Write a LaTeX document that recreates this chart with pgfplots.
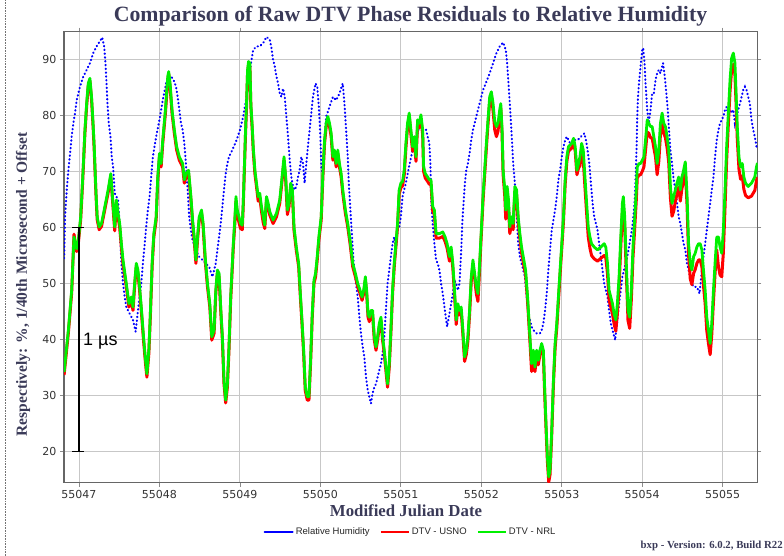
\documentclass[border=0pt]{standalone}
\usepackage{pgfplots}
\pgfplotsset{compat=1.18}
\usepackage{pgfplotstable}
\usepackage{fontspec}
\setmainfont{Liberation Serif}
\newfontfamily\dejavu{DejaVu Sans}
\newfontfamily\lsans{Liberation Sans}
\definecolor{titlecol}{RGB}{58,58,88}
\definecolor{dtvgreen}{RGB}{0,240,0}
\definecolor{hblue}{RGB}{0,0,255}

\pgfplotstableread{
x y
55046.815 54.5
55046.827 61.9
55046.848 66.7
55046.868 70.2
55046.889 73.2
55046.909 76.2
55046.930 78.6
55046.951 80.4
55046.971 82.7
55047.012 85.1
55047.053 86.9
55047.095 88.1
55047.136 89.3
55047.177 91.1
55047.218 92.3
55047.259 93.2
55047.288 93.9
55047.313 92.3
55047.329 89.3
55047.342 85.7
55047.354 82.1
55047.370 78.6
55047.391 76.2
55047.407 72.6
55047.424 70.8
55047.444 66.1
55047.465 65.5
55047.486 64.9
55047.506 60.1
55047.527 53.6
55047.547 50.0
55047.568 47.6
55047.588 45.8
55047.609 45.2
55047.630 44.6
55047.671 43.5
55047.704 41.4
55047.733 45.2
55047.753 47.6
55047.774 50.0
55047.794 53.6
55047.815 56.8
55047.835 60.1
55047.856 63.1
55047.877 65.5
55047.897 69.0
55047.918 72.6
55047.959 76.2
55048.000 79.2
55048.041 82.7
55048.082 85.7
55048.115 86.9
55048.144 87.0
55048.185 86.0
55048.206 85.1
55048.226 83.3
55048.247 81.0
55048.267 78.6
55048.288 77.4
55048.309 75.0
55048.329 71.4
55048.350 66.7
55048.370 61.9
55048.391 59.5
55048.412 57.7
55048.453 56.0
55048.494 54.8
55048.535 54.2
55048.576 53.6
55048.617 53.0
55048.658 51.2
55048.700 53.6
55048.720 56.0
55048.741 58.3
55048.761 60.7
55048.782 63.7
55048.802 66.7
55048.823 69.6
55048.844 71.4
55048.864 72.6
55048.905 73.8
55048.959 75.6
55049.000 77.4
55049.041 79.8
55049.082 83.3
55049.124 88.1
55049.165 91.7
55049.206 92.3
55049.247 92.3
55049.289 92.9
55049.330 94.0
55049.371 93.5
55049.392 92.0
55049.412 89.9
55049.433 88.7
55049.454 86.9
55049.474 85.7
55049.495 83.9
55049.515 83.3
55049.536 84.8
55049.557 83.3
55049.577 79.8
55049.598 76.2
55049.619 72.0
55049.639 69.0
55049.660 67.3
55049.680 66.7
55049.701 67.3
55049.722 69.0
55049.742 70.2
55049.763 72.6
55049.784 71.4
55049.804 67.9
55049.825 71.4
55049.845 74.4
55049.866 77.4
55049.887 80.4
55049.907 83.3
55049.940 85.7
55049.961 85.1
55049.981 81.5
55049.998 76.8
55050.014 70.2
55050.031 69.6
55050.052 75.6
55050.072 79.8
55050.113 81.5
55050.155 83.3
55050.196 82.7
55050.237 83.9
55050.278 85.7
55050.299 82.1
55050.320 77.4
55050.340 72.6
55050.353 67.9
55050.373 63.1
55050.394 58.3
55050.414 53.6
55050.443 50.0
55050.464 47.6
55050.485 44.0
55050.505 41.0
55050.526 38.7
55050.546 36.9
55050.567 33.3
55050.588 31.0
55050.608 29.8
55050.629 28.6
55050.649 30.4
55050.670 31.5
55050.691 32.1
55050.711 33.3
55050.732 34.5
55050.753 35.7
55050.773 37.5
55050.794 40.5
55050.814 45.2
55050.835 50.0
55050.856 52.4
55050.876 54.8
55050.897 57.1
55050.918 58.3
55050.938 56.0
55050.959 59.5
55050.979 60.1
55051.000 61.9
55051.021 65.5
55051.041 66.7
55051.062 67.9
55051.104 71.0
55051.146 73.8
55051.188 75.6
55051.229 78.0
55051.271 77.4
55051.313 77.4
55051.333 76.2
55051.354 75.0
55051.367 71.4
55051.379 64.3
55051.396 60.7
55051.417 57.1
55051.438 54.2
55051.458 53.6
55051.479 52.4
55051.500 50.0
55051.521 48.2
55051.542 45.8
55051.563 43.5
55051.575 42.3
55051.596 44.0
55051.625 46.4
55051.646 48.2
55051.667 50.6
55051.688 50.0
55051.708 48.8
55051.729 50.0
55051.742 53.6
55051.754 57.1
55051.763 60.7
55051.779 64.3
55051.796 67.9
55051.813 70.2
55051.833 71.4
55051.854 73.2
55051.875 75.6
55051.896 77.4
55051.917 78.6
55051.938 79.8
55051.958 81.0
55051.979 82.1
55052.000 83.3
55052.021 84.5
55052.063 86.0
55052.104 87.5
55052.146 89.3
55052.188 91.1
55052.229 92.3
55052.271 93.0
55052.304 91.7
55052.321 89.3
55052.338 85.7
55052.354 82.1
55052.371 78.0
55052.383 75.0
55052.396 71.4
55052.417 67.9
55052.438 63.1
55052.458 57.1
55052.479 54.8
55052.500 53.6
55052.521 52.4
55052.542 51.2
55052.563 47.6
55052.583 44.6
55052.604 43.5
55052.625 42.3
55052.646 41.7
55052.688 41.1
55052.729 41.1
55052.750 41.7
55052.771 42.9
55052.792 45.2
55052.813 48.2
55052.833 52.4
55052.854 56.0
55052.875 59.5
55052.896 61.3
55052.917 63.1
55052.938 65.5
55052.958 68.5
55052.979 70.2
55053.000 72.6
55053.021 74.4
55053.042 75.6
55053.063 76.2
55053.104 75.0
55053.146 75.6
55053.198 75.6
55053.239 76.2
55053.280 76.8
55053.300 75.6
55053.321 73.8
55053.342 71.4
55053.362 67.9
55053.383 64.3
55053.403 61.9
55053.424 60.7
55053.444 59.5
55053.465 57.1
55053.486 54.8
55053.506 52.4
55053.527 50.0
55053.547 48.8
55053.568 47.6
55053.588 45.2
55053.609 42.9
55053.630 41.7
55053.663 39.9
55053.691 43.5
55053.712 46.4
55053.733 48.8
55053.753 51.2
55053.774 52.4
55053.794 53.6
55053.815 54.8
55053.835 56.5
55053.856 58.3
55053.877 60.1
55053.897 63.1
55053.909 65.5
55053.922 70.8
55053.930 74.4
55053.938 79.8
55053.947 83.3
55053.959 85.7
55053.979 88.7
55054.000 91.7
55054.012 92.0
55054.029 89.3
55054.041 85.7
55054.062 81.0
55054.082 78.6
55054.103 81.0
55054.123 83.9
55054.144 83.9
55054.165 86.3
55054.185 87.5
55054.206 88.1
55054.226 87.5
55054.259 89.3
55054.280 86.9
55054.300 83.9
55054.317 81.0
55054.333 77.4
55054.350 73.8
55054.370 71.4
55054.391 68.5
55054.412 66.7
55054.432 64.3
55054.453 61.9
55054.473 60.7
55054.494 58.9
55054.514 57.1
55054.535 56.0
55054.556 53.6
55054.576 52.4
55054.597 51.2
55054.617 50.0
55054.638 49.4
55054.679 49.4
55054.712 48.2
55054.741 52.4
55054.761 54.8
55054.782 57.1
55054.802 59.5
55054.823 61.9
55054.844 64.3
55054.864 66.7
55054.885 69.0
55054.905 72.6
55054.926 75.6
55054.947 77.4
55054.967 78.6
55054.988 79.2
55055.008 79.8
55055.029 81.0
55055.049 81.5
55055.070 79.8
55055.091 81.0
55055.111 80.4
55055.132 81.0
55055.152 78.6
55055.173 79.8
55055.193 81.0
55055.214 82.1
55055.235 83.3
55055.255 84.5
55055.276 85.1
55055.296 84.5
55055.317 83.3
55055.337 82.1
55055.358 79.2
55055.379 77.4
55055.399 76.2
55055.420 74.4
}\humidity

\pgfplotstableread{
x y
55046.815 34.2
55046.868 41.7
55046.909 48.8
55046.938 58.3
55046.971 56.2
55046.992 57.7
55047.021 61.9
55047.045 68.5
55047.074 77.4
55047.095 82.1
55047.115 85.7
55047.136 86.6
55047.156 83.3
55047.177 78.0
55047.189 74.4
55047.210 66.7
55047.226 61.9
55047.251 60.1
55047.280 60.7
55047.321 63.7
55047.362 66.7
55047.395 69.6
55047.416 65.5
55047.444 60.1
55047.465 64.9
55047.486 62.5
55047.506 60.7
55047.527 57.1
55047.547 54.2
55047.588 50.0
55047.621 46.4
55047.650 47.6
55047.671 45.8
55047.691 50.0
55047.712 53.6
55047.733 52.4
55047.753 49.4
55047.774 45.8
55047.802 40.5
55047.827 36.3
55047.844 33.9
55047.868 38.1
55047.885 44.0
55047.909 53.6
55047.930 58.9
55047.959 61.9
55047.979 69.0
55048.000 73.2
55048.021 71.4
55048.041 75.6
55048.074 81.0
55048.103 86.9
55048.115 87.8
55048.132 85.7
55048.156 81.0
55048.185 77.4
55048.214 74.4
55048.247 72.6
55048.288 71.4
55048.309 68.5
55048.329 69.6
55048.362 70.2
55048.391 65.5
55048.412 61.3
55048.432 58.3
55048.453 54.2
55048.473 58.3
55048.494 61.9
55048.523 63.1
55048.543 60.7
55048.568 54.8
55048.597 50.0
55048.626 46.4
55048.650 40.5
55048.679 41.7
55048.700 48.8
55048.720 52.4
55048.741 51.8
55048.761 45.8
55048.782 40.5
55048.802 32.7
55048.823 29.2
55048.844 32.1
55048.864 38.7
55048.885 47.6
55048.918 57.1
55048.938 61.9
55048.951 65.5
55048.967 63.1
55048.988 61.9
55049.008 60.7
55049.029 60.4
55049.041 64.3
55049.054 70.2
55049.070 77.4
55049.082 82.1
55049.095 88.1
55049.107 89.6
55049.124 89.3
55049.136 82.1
55049.153 78.0
55049.165 74.4
55049.186 70.2
55049.206 67.9
55049.227 65.5
55049.247 66.1
55049.268 63.7
55049.289 61.9
55049.309 60.4
55049.330 65.5
55049.351 64.3
55049.371 62.8
55049.412 61.3
55049.454 62.5
55049.495 64.9
55049.524 69.0
55049.548 72.6
55049.569 69.0
55049.590 63.1
55049.610 64.3
55049.631 67.9
55049.652 66.7
55049.672 60.1
55049.701 56.5
55049.730 53.6
55049.751 48.2
55049.771 43.5
55049.792 38.1
55049.812 31.5
55049.837 29.8
55049.858 29.8
55049.878 36.3
55049.899 44.6
55049.920 50.6
55049.940 51.8
55049.961 54.8
55049.981 58.3
55050.010 61.9
55050.031 69.6
55050.052 75.6
55050.072 78.6
55050.093 79.8
55050.113 78.6
55050.134 76.8
55050.155 72.6
55050.175 73.8
55050.196 71.4
55050.216 73.8
55050.237 71.4
55050.258 69.6
55050.278 66.7
55050.311 63.1
55050.340 60.7
55050.369 57.7
55050.402 53.6
55050.435 51.8
55050.464 50.0
55050.493 48.8
55050.518 47.6
55050.538 48.8
55050.559 51.2
55050.575 48.8
55050.592 44.6
55050.608 44.0
55050.629 45.2
55050.649 45.2
55050.670 40.5
55050.691 38.7
55050.711 40.5
55050.732 42.9
55050.753 44.0
55050.773 40.5
55050.794 38.1
55050.814 35.1
55050.835 32.1
55050.856 35.7
55050.876 41.7
55050.897 48.8
55050.918 53.6
55050.938 57.1
55050.959 60.7
55050.979 66.7
55051.000 67.9
55051.021 68.2
55051.042 70.2
55051.063 75.0
55051.083 78.6
55051.104 80.4
55051.125 77.4
55051.146 74.4
55051.167 76.2
55051.188 72.6
55051.208 79.2
55051.229 78.6
55051.250 80.1
55051.271 77.4
55051.283 70.8
55051.304 69.6
55051.333 69.0
55051.354 68.5
55051.375 68.5
55051.396 63.7
55051.417 63.1
55051.438 58.9
55051.479 58.9
55051.521 59.2
55051.550 58.3
55051.575 57.1
55051.604 54.8
55051.625 56.5
55051.646 53.6
55051.667 48.8
55051.688 43.5
55051.708 46.4
55051.729 45.2
55051.750 45.8
55051.771 41.7
55051.792 36.9
55051.813 38.1
55051.833 40.5
55051.854 45.2
55051.875 51.2
55051.896 54.2
55051.917 51.8
55051.938 49.4
55051.958 48.2
55051.979 53.6
55052.000 59.5
55052.021 65.5
55052.042 70.2
55052.063 75.0
55052.083 79.2
55052.104 83.3
55052.125 84.2
55052.146 82.1
55052.167 78.9
55052.188 78.0
55052.208 78.6
55052.229 81.0
55052.242 82.1
55052.258 77.4
55052.271 70.2
55052.292 66.7
55052.304 63.1
55052.321 67.3
55052.338 64.9
55052.354 60.1
55052.375 61.9
55052.396 60.7
55052.417 67.3
55052.438 66.7
55052.458 61.9
55052.479 58.9
55052.500 56.5
55052.521 54.8
55052.550 52.4
55052.575 47.6
55052.604 40.5
55052.625 35.7
55052.646 38.1
55052.667 35.1
55052.688 38.1
55052.708 36.3
55052.729 38.1
55052.750 39.3
55052.771 38.1
55052.788 31.0
55052.804 25.0
55052.821 19.1
55052.838 15.5
55052.854 16.7
55052.875 23.8
55052.896 32.7
55052.917 39.3
55052.938 42.9
55052.958 47.6
55052.979 52.4
55053.000 57.1
55053.021 61.9
55053.042 68.5
55053.063 72.6
55053.083 74.4
55053.104 74.7
55053.125 75.0
55053.146 75.9
55053.167 74.4
55053.188 70.2
55053.208 71.4
55053.226 72.6
55053.247 75.0
55053.267 73.8
55053.288 69.0
55053.309 64.3
55053.329 60.1
55053.350 58.3
55053.370 57.1
55053.403 56.5
55053.444 56.0
55053.486 56.5
55053.527 57.1
55053.547 56.5
55053.568 53.6
55053.588 48.8
55053.609 47.6
55053.630 46.4
55053.650 44.6
55053.671 43.5
55053.691 46.4
55053.712 51.2
55053.733 58.3
55053.753 64.3
55053.765 65.5
55053.782 61.9
55053.802 53.6
55053.823 45.2
55053.844 44.0
55053.864 48.8
55053.885 56.5
55053.905 61.3
55053.926 66.7
55053.938 70.8
55053.959 71.4
55053.979 71.4
55054.000 72.0
55054.021 72.6
55054.041 75.6
55054.062 79.2
55054.082 78.6
55054.103 78.0
55054.123 78.0
55054.144 76.2
55054.165 74.4
55054.185 71.4
55054.206 73.8
55054.226 78.6
55054.247 80.4
55054.267 78.6
55054.288 78.0
55054.309 76.2
55054.329 73.8
55054.350 67.3
55054.370 64.3
55054.391 65.5
55054.412 66.7
55054.432 67.9
55054.453 69.0
55054.473 66.7
55054.494 69.0
55054.514 70.2
55054.535 71.7
55054.556 66.1
55054.576 57.1
55054.597 53.6
55054.617 52.4
55054.638 54.8
55054.658 55.4
55054.679 56.5
55054.700 57.1
55054.720 57.1
55054.741 56.0
55054.761 52.4
55054.782 48.8
55054.802 44.0
55054.823 41.7
55054.844 39.3
55054.864 42.9
55054.885 48.8
55054.905 53.6
55054.926 58.3
55054.947 58.3
55054.967 56.5
55054.988 55.4
55055.008 59.5
55055.029 66.7
55055.049 74.4
55055.070 80.4
55055.091 86.3
55055.111 90.2
55055.132 91.1
55055.152 89.3
55055.165 84.5
55055.181 78.0
55055.202 72.6
55055.222 70.8
55055.243 71.4
55055.263 69.0
55055.284 67.9
55055.317 67.3
55055.358 67.9
55055.399 69.0
55055.420 70.8
55055.432 71.5
}\nrl

\pgfplotstableread{
x y
55046.815 33.7
55046.868 41.2
55046.909 48.3
55046.938 58.8
55046.971 55.7
55046.992 57.2
55047.021 61.4
55047.045 68.0
55047.074 76.9
55047.095 81.6
55047.115 85.2
55047.136 86.1
55047.156 82.8
55047.177 77.5
55047.189 73.9
55047.210 66.2
55047.226 61.4
55047.251 59.6
55047.280 60.2
55047.321 63.2
55047.362 66.2
55047.395 69.1
55047.416 65.0
55047.444 59.4
55047.465 64.4
55047.486 61.8
55047.506 60.0
55047.527 56.4
55047.547 53.5
55047.588 49.4
55047.621 45.8
55047.650 47.0
55047.671 45.2
55047.691 49.4
55047.712 53.0
55047.733 51.8
55047.753 48.8
55047.774 45.2
55047.802 39.9
55047.827 35.7
55047.844 33.3
55047.868 37.5
55047.885 43.4
55047.909 53.0
55047.930 58.3
55047.959 61.3
55047.979 68.4
55048.000 72.6
55048.021 70.8
55048.041 75.0
55048.074 80.4
55048.103 86.3
55048.115 87.4
55048.132 85.1
55048.156 80.4
55048.185 76.8
55048.214 73.8
55048.247 72.0
55048.288 70.8
55048.309 67.9
55048.329 69.0
55048.362 69.6
55048.391 64.9
55048.412 60.7
55048.432 57.7
55048.453 53.6
55048.473 57.7
55048.494 61.3
55048.523 62.6
55048.543 60.1
55048.568 54.2
55048.597 49.4
55048.626 45.8
55048.650 39.9
55048.679 41.1
55048.700 48.2
55048.720 51.8
55048.741 51.2
55048.761 45.2
55048.782 39.9
55048.802 32.1
55048.823 28.7
55048.844 31.5
55048.864 38.1
55048.885 47.0
55048.918 56.5
55048.938 61.0
55048.951 64.7
55048.967 62.3
55048.988 60.9
55049.008 59.8
55049.029 59.6
55049.041 63.7
55049.054 69.6
55049.070 76.8
55049.082 81.5
55049.095 87.5
55049.107 89.0
55049.124 88.7
55049.136 81.5
55049.153 77.4
55049.165 73.8
55049.186 69.6
55049.206 67.3
55049.227 64.7
55049.247 65.3
55049.268 62.9
55049.289 60.9
55049.309 59.8
55049.330 64.9
55049.351 63.7
55049.371 62.2
55049.412 60.7
55049.454 61.9
55049.495 64.3
55049.524 68.4
55049.548 72.0
55049.569 68.4
55049.590 62.3
55049.610 63.7
55049.631 67.3
55049.652 66.1
55049.672 59.5
55049.701 55.9
55049.730 53.0
55049.751 47.6
55049.771 42.9
55049.792 37.5
55049.812 30.9
55049.837 29.2
55049.858 29.2
55049.878 35.7
55049.899 44.0
55049.920 50.0
55049.940 51.2
55049.961 54.2
55049.981 57.7
55050.010 61.3
55050.031 69.0
55050.052 75.0
55050.072 78.0
55050.093 79.2
55050.113 78.0
55050.134 76.2
55050.155 72.0
55050.175 73.2
55050.196 70.8
55050.216 73.2
55050.237 70.8
55050.258 69.0
55050.278 66.1
55050.311 62.5
55050.340 60.1
55050.369 57.1
55050.402 53.0
55050.435 51.2
55050.464 49.4
55050.493 48.2
55050.518 47.0
55050.538 48.2
55050.559 50.6
55050.575 48.2
55050.592 44.0
55050.608 43.2
55050.629 44.6
55050.649 44.4
55050.670 39.9
55050.691 38.1
55050.711 39.9
55050.732 42.3
55050.753 43.4
55050.773 39.9
55050.794 37.5
55050.814 34.5
55050.835 31.5
55050.856 35.1
55050.876 41.1
55050.897 48.2
55050.918 53.0
55050.938 56.5
55050.959 60.1
55050.979 65.9
55051.000 67.1
55051.021 67.4
55051.042 69.4
55051.063 74.2
55051.083 77.8
55051.104 80.0
55051.125 76.6
55051.146 73.6
55051.167 75.4
55051.188 71.8
55051.208 78.4
55051.229 77.8
55051.250 79.3
55051.271 76.6
55051.283 70.0
55051.304 68.8
55051.333 68.2
55051.354 67.7
55051.375 67.7
55051.396 62.9
55051.417 62.3
55051.438 58.1
55051.479 58.1
55051.521 58.4
55051.550 57.5
55051.575 56.3
55051.604 54.0
55051.625 55.7
55051.646 52.8
55051.667 48.0
55051.688 42.7
55051.708 45.6
55051.729 44.4
55051.750 45.0
55051.771 40.9
55051.792 36.1
55051.813 37.3
55051.833 39.7
55051.854 44.4
55051.875 50.4
55051.896 53.4
55051.917 51.0
55051.938 48.2
55051.958 46.8
55051.979 52.6
55052.000 58.7
55052.021 64.7
55052.042 69.4
55052.063 74.2
55052.083 78.4
55052.104 82.5
55052.125 83.4
55052.146 80.8
55052.167 77.4
55052.188 76.2
55052.208 77.2
55052.229 80.2
55052.242 81.3
55052.258 76.6
55052.271 69.4
55052.292 65.5
55052.304 61.5
55052.321 66.3
55052.338 63.6
55052.354 58.9
55052.375 60.5
55052.396 59.6
55052.417 66.5
55052.438 65.9
55052.458 61.1
55052.479 58.1
55052.500 55.5
55052.521 53.8
55052.550 51.6
55052.575 46.8
55052.604 39.7
55052.625 34.3
55052.646 36.9
55052.667 34.3
55052.688 37.1
55052.708 35.5
55052.729 37.3
55052.750 38.5
55052.771 37.3
55052.788 30.2
55052.804 24.2
55052.821 18.3
55052.838 14.6
55052.854 15.9
55052.875 23.0
55052.896 31.9
55052.917 38.5
55052.938 42.1
55052.958 46.8
55052.979 51.6
55053.000 56.3
55053.021 61.1
55053.042 67.7
55053.063 71.8
55053.083 73.6
55053.104 73.9
55053.125 74.2
55053.146 75.1
55053.167 73.6
55053.188 69.4
55053.208 70.6
55053.226 71.0
55053.247 73.4
55053.267 72.0
55053.288 67.2
55053.309 62.5
55053.329 58.3
55053.350 56.3
55053.370 55.0
55053.403 54.4
55053.444 54.0
55053.486 54.5
55053.527 55.0
55053.547 54.6
55053.568 51.8
55053.588 47.0
55053.609 45.8
55053.630 44.6
55053.650 42.8
55053.671 41.5
55053.691 44.6
55053.712 49.4
55053.733 56.5
55053.753 62.5
55053.765 63.9
55053.782 60.1
55053.802 51.8
55053.823 43.4
55053.844 42.0
55053.864 47.0
55053.885 54.7
55053.905 59.5
55053.926 64.9
55053.938 68.8
55053.959 69.4
55053.979 69.4
55054.000 70.0
55054.021 70.8
55054.041 73.8
55054.062 77.0
55054.082 76.8
55054.103 76.0
55054.123 76.0
55054.144 74.2
55054.165 72.6
55054.185 69.4
55054.206 71.8
55054.226 76.6
55054.247 78.4
55054.267 76.8
55054.288 76.0
55054.309 74.2
55054.329 71.6
55054.350 65.3
55054.370 62.0
55054.391 62.9
55054.412 64.7
55054.432 65.9
55054.453 67.2
55054.473 64.7
55054.494 67.0
55054.514 68.2
55054.535 69.9
55054.556 64.3
55054.576 55.0
55054.597 50.8
55054.617 49.8
55054.638 51.8
55054.658 52.5
55054.679 53.6
55054.700 54.2
55054.720 54.2
55054.741 53.0
55054.761 49.6
55054.782 46.4
55054.802 41.6
55054.823 39.3
55054.844 37.3
55054.864 40.9
55054.885 46.8
55054.905 51.8
55054.926 56.0
55054.947 53.0
55054.967 51.5
55054.988 51.2
55055.008 55.5
55055.029 63.7
55055.049 72.0
55055.070 78.4
55055.091 84.3
55055.111 88.2
55055.132 89.1
55055.152 87.3
55055.165 82.5
55055.181 75.8
55055.202 70.4
55055.222 68.6
55055.243 69.2
55055.263 66.8
55055.284 65.7
55055.317 65.3
55055.358 65.6
55055.399 66.6
55055.420 68.4
55055.432 69.0
}\usno

\begin{document}
\begin{tikzpicture}
\path[use as bounding box] (0pt,0pt) rectangle (784pt,556pt);
\draw[black!55, densely dotted, line width=0.6pt] (5pt,0pt) -- (5pt,556pt);
\begin{axis}[
  at={(64pt,73.3pt)}, anchor=south west,
  scale only axis, width=693.5pt, height=451pt,
  xmin=55046.8136, xmax=55055.4325,
  ymin=14.47, ymax=94.92,
  scaled x ticks=false,
  xtick={55047,55048,55049,55050,55051,55052,55053,55054,55055},
  xticklabels={55047,55048,55049,55050,55051,55052,55053,55054,55055},
  ytick={20,30,40,50,60,70,80,90},
  /pgf/number format/assume math mode=true,
  ticklabel style={font=\dejavu\fontsize{11}{13}\selectfont, text=black!80},
  tick align=outside, major tick length=4pt,
  tick style={black!45, line width=0.8pt},
  grid=major, grid style={black!22, line width=0.9pt},
  axis line style={black!60, line width=1.3pt},
  axis background/.style={fill=white},
  clip=true,
  legend style={at={(0.4996,-0.1093)}, anchor=center, draw=none, fill=none,
    font=\lsans\fontsize{9.5}{11}\selectfont, text=black!85},
  legend columns=3,
  legend cell align=left,
  /tikz/every even column/.append style={column sep=8pt},
  legend image code/.code={\draw[#1, solid, line width=2.2pt] (0pt,0pt) -- (28pt,0pt);},
]
\addplot[hblue, line width=2.1pt, line cap=round, dash pattern=on 0.5pt off 3.3pt] table[x=x,y=y] {\humidity};
\addlegendentry{Relative Humidity}
\addplot[red, line width=3pt, line join=round] table[x=x,y=y] {\usno};
\addlegendentry{DTV - USNO}
\addplot[dtvgreen, line width=2.8pt, line join=round] table[x=x,y=y] {\nrl};
\addlegendentry{DTV - NRL}
% 1 microsecond scale bar
\addplot[black, line width=1.4pt, forget plot] coordinates {(55047,60) (55047,20)};
\addplot[black, line width=1.4pt, forget plot] coordinates {(55046.915,60) (55047.065,60)};
\addplot[black, line width=1.4pt, forget plot] coordinates {(55046.915,20) (55047.065,20)};
\node[anchor=west, inner sep=0pt, font=\lsans\fontsize{18}{20}\selectfont] at (axis cs:55047.05,39.7) {1 µs};
\end{axis}
\node[anchor=base, inner sep=0pt, text=titlecol, font=\bfseries\fontsize{21.8}{26}\selectfont] at (410.5pt,534.5pt) {Comparison of Raw DTV Phase Residuals to Relative Humidity};
\node[anchor=center, inner sep=0pt, text=titlecol, font=\bfseries\fontsize{16.8}{20}\selectfont] at (406pt,45pt) {Modified Julian Date};
\node[anchor=center, inner sep=0pt, rotate=90, text=titlecol, font=\bfseries\fontsize{15.5}{18}\selectfont] at (23pt,271.5pt) {Respectively: \%, 1/40th Microsecond + Offset};
\node[anchor=east, inner sep=0pt, text=titlecol, font=\bfseries\fontsize{10.8}{12}\selectfont] at (783pt,10pt) {bxp - Version: 6.0.2, Build R22};
\end{tikzpicture}
\end{document}
